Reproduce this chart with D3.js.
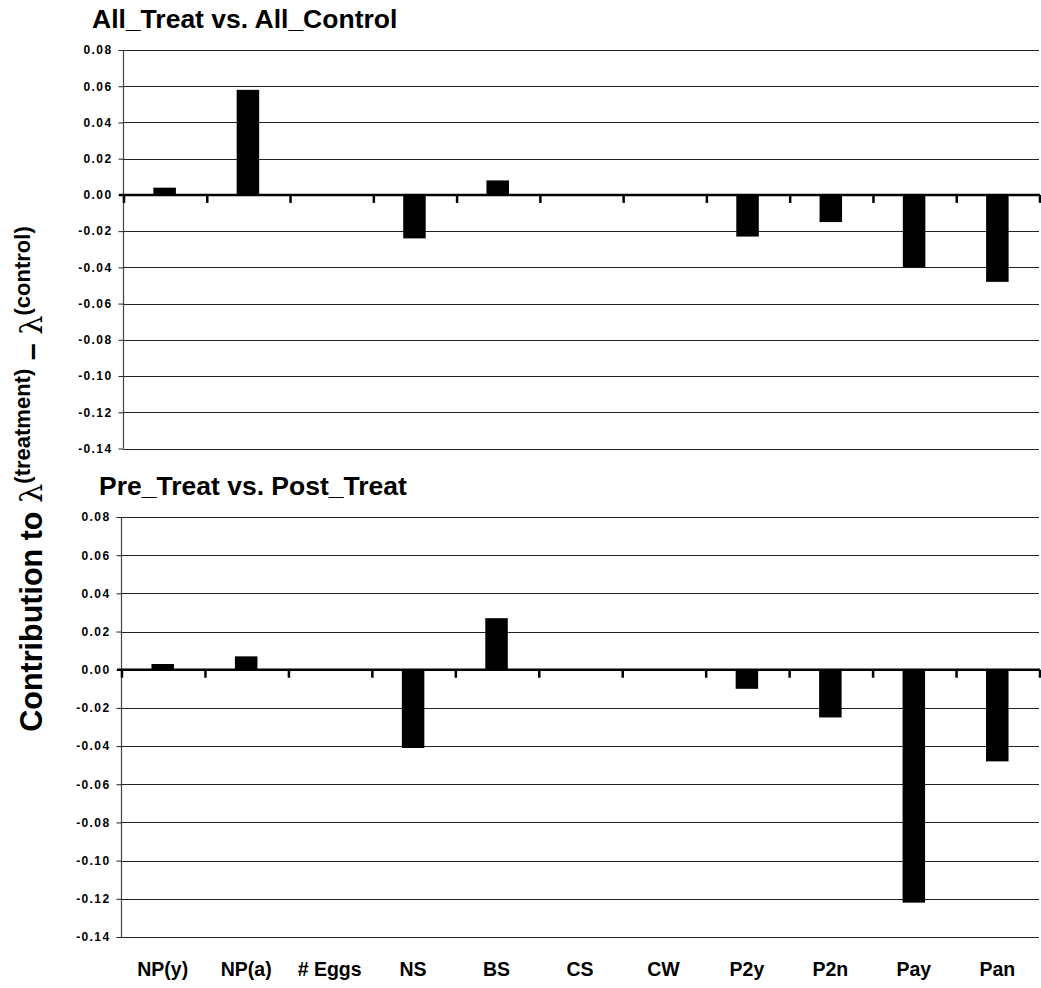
<!DOCTYPE html>
<html><head><meta charset="utf-8">
<script src="https://cdn.jsdelivr.net/npm/d3@7"></script>
<style>body{margin:0;background:#fff}svg{display:block}</style>
</head><body>
<svg id="c" width="1041" height="988"></svg>
<script>
const categories = ["NP(y)","NP(a)","# Eggs","NS","BS","CS","CW","P2y","P2n","Pay","Pan"];
const allTreatValues = [0.004,0.058,0,-0.024,0.008,0,0,-0.023,-0.015,-0.040,-0.048];
const preTreatValues = [0.003,0.007,0,-0.041,0.027,0,0,-0.010,-0.025,-0.122,-0.048];
const yTicks = [0.08,0.06,0.04,0.02,0.00,-0.02,-0.04,-0.06,-0.08,-0.10,-0.12,-0.14];
const panelTitles = ["All_Treat vs. All_Control","Pre_Treat vs. Post_Treat"];

const svg = d3.select("#c");
const FONT = "Arial, 'Liberation Sans', sans-serif";
const barW = 22.5;

const panels = [
  {title: panelTitles[0], values: allTreatValues, top: 50, bottom: 448.5, left: 123, right: 1039, titleX: 92, titleY: 27.5, labels:false},
  {title: panelTitles[1], values: preTreatValues, top: 517, bottom: 937, left: 121, right: 1039, titleX: 99, titleY: 495, labels:true}
];

panels.forEach(p => {
  const x = d3.scaleBand().domain(categories).range([p.left,p.right]).paddingInner(0).paddingOuter(0);
  const y = d3.scaleLinear().domain([-0.14,0.08]).range([p.bottom,p.top]);
  const g = svg.append("g");
  // gridlines
  g.selectAll("line.grid").data(yTicks.filter(t=>t!==0)).join("line").attr("class","grid")
    .attr("x1",p.left).attr("x2",p.right)
    .attr("y1",d=>Math.round(y(d))+0.5).attr("y2",d=>Math.round(y(d))+0.5)
    .attr("stroke","#222").attr("stroke-width",1);
  // left axis
  const ax = d3.axisLeft(y).tickValues(yTicks).tickSize(5).tickPadding(6).tickFormat(d3.format(".2f"));
  const ag = g.append("g").attr("transform",`translate(${p.left+0.5},0)`).call(ax);
  ag.select(".domain").attr("stroke","#444").attr("stroke-width",1.2).attr("d",`M0,${p.top}V${p.bottom}`);
  ag.selectAll(".tick line").attr("stroke","#222");
  ag.selectAll(".tick text").attr("font-family",FONT)
    .attr("font-weight","bold").attr("font-size","12px").attr("letter-spacing","1.4px").attr("fill","#000")
    .text(d => d3.format(".2f")(d).replace("−","-"));
  // bars
  g.selectAll("rect.bar").data(categories).join("rect").attr("class","bar")
    .attr("x",(d)=>x(d)+x.bandwidth()/2-barW/2)
    .attr("width",barW)
    .attr("y",(d,i)=>Math.min(y(p.values[i]),y(0)))
    .attr("height",(d,i)=>Math.abs(y(p.values[i])-y(0)))
    .attr("fill","#000");
  // zero axis line
  const y0 = y(0);
  g.append("line").attr("x1",p.left-4).attr("x2",p.right+1).attr("y1",y0).attr("y2",y0)
    .attr("stroke","#000").attr("stroke-width",2.5);
  // category ticks via a bottom axis at band boundaries
  const bx = d3.scaleLinear().domain([0,categories.length]).range([p.left,p.right]);
  const cax = d3.axisBottom(bx).tickValues(d3.range(categories.length+1)).tickSize(8).tickFormat("");
  const cg = g.append("g").attr("transform",`translate(0.5,${y0})`).call(cax);
  cg.select(".domain").remove();
  cg.selectAll(".tick line").attr("stroke","#000").attr("stroke-width",2.5);
  // title
  svg.append("text").attr("x",p.titleX).attr("y",p.titleY)
    .attr("font-family",FONT).attr("font-weight","bold")
    .attr("font-size","26.5px").attr("fill","#000").text(p.title);
  if (p.labels) {
    svg.selectAll("text.cat").data(categories).join("text").attr("class","cat")
      .attr("x",d=>x(d)+x.bandwidth()/2).attr("y",976)
      .attr("text-anchor","middle")
      .attr("font-family",FONT)
      .attr("font-weight","bold").attr("font-size","19.5px").attr("fill","#000")
      .text(d=>d);
  }
});

// y axis label
const lab = svg.append("text")
  .attr("transform","translate(42,479) rotate(-90)")
  .attr("text-anchor","middle")
  .attr("font-family",FONT)
  .attr("font-weight","bold").attr("font-size","30.5px").attr("fill","#000");
lab.append("tspan").text("Contribution to ");
lab.append("tspan").attr("font-weight","normal").attr("font-family","'DejaVu Serif', serif").text("λ");
lab.append("tspan").attr("font-size","22px").attr("dy","-12").text("(treatment)");
lab.append("tspan").attr("dy","12").text(" – ");
lab.append("tspan").attr("font-weight","normal").attr("font-family","'DejaVu Serif', serif").text("λ");
lab.append("tspan").attr("font-size","22px").attr("dy","-12").text("(control)");
</script>
</body></html>
